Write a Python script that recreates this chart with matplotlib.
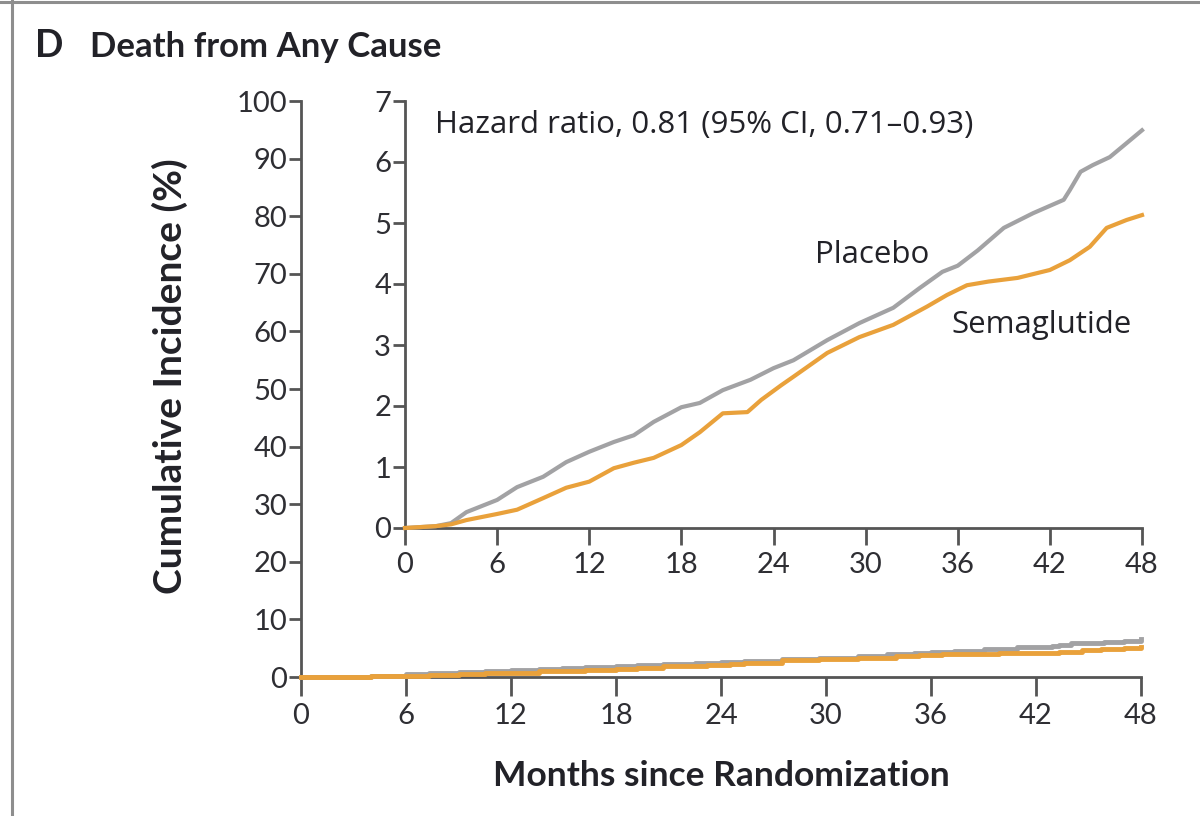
import matplotlib
matplotlib.use('Agg')  # Use non-interactive backend
import matplotlib.pyplot as plt
from matplotlib.lines import Line2D

# Cumulative incidence (%)
months_placebo = [0, 2, 3, 4, 6, 7.3, 9, 10.5, 12, 13.6, 14.9, 16.2, 18, 19.2, 20.7,
                  22.5, 24, 25.3, 27.5, 29.6, 31.8, 33.5, 35, 36, 37.3, 39, 40.9,
                  42.9, 43.3, 44, 44.8, 45.9, 47, 48]
placebo = [0, 0.03, 0.08, 0.26, 0.46, 0.67, 0.84, 1.08, 1.25, 1.41, 1.52, 1.74, 1.98,
           2.05, 2.26, 2.43, 2.62, 2.75, 3.08, 3.36, 3.61, 3.93, 4.2, 4.3, 4.55, 4.92,
           5.16, 5.38, 5.54, 5.84, 5.95, 6.08, 6.31, 6.52]

months_sema = [0, 2, 3, 4, 6, 7.3, 9, 10.5, 12, 13.6, 14.9, 16.2, 18, 19.2, 20.7, 22.3,
               23.2, 24.5, 25.3, 27.5, 29.6, 31.8, 34, 35.3, 36.6, 38, 39.9, 42, 43.3,
               44.6, 45.7, 47, 48]
sema = [0, 0.03, 0.06, 0.13, 0.23, 0.3, 0.49, 0.66, 0.76, 0.98, 1.07, 1.15, 1.36, 1.57,
        1.88, 1.9, 2.1, 2.34, 2.48, 2.87, 3.13, 3.33, 3.63, 3.82, 3.98, 4.04, 4.1, 4.23,
        4.39, 4.61, 4.92, 5.05, 5.13]

x_ticks = [0, 6, 12, 18, 24, 30, 36, 42, 48]
main_y_ticks = list(range(0, 101, 10))
inset_y_ticks = list(range(0, 8))

gray = '#a2a2a4'
orange = '#e9a13b'
axis_col = '#555555'
text_col = '#222228'

plt.rcParams['font.family'] = ['Lato', 'DejaVu Sans']

fig = plt.figure(figsize=(12, 8.16), dpi=100)

# frame lines of the panel
fig.add_artist(Line2D([12 / 1200, 12 / 1200], [0, 1], color='#8e8e8e', lw=2.2))
fig.add_artist(Line2D([0, 1], [1 - 2 / 816, 1 - 2 / 816], color='#8e8e8e', lw=2.2))


def style_axes(ax, xlen, ylen):
    for side in ['top', 'right']:
        ax.spines[side].set_visible(False)
    for side in ['left', 'bottom']:
        ax.spines[side].set_color(axis_col)
        ax.spines[side].set_linewidth(2)
    ax.tick_params(axis='x', direction='out', length=xlen, width=2, color=axis_col,
                   labelsize=21, labelcolor='#2e2e33', pad=5)
    ax.tick_params(axis='y', direction='out', length=ylen, width=2, color=axis_col,
                   labelsize=21, labelcolor='#2e2e33', pad=1)


# Main axes (0-100 %)
ax = fig.add_axes([301 / 1200, 1 - 677 / 816, 840 / 1200, 576 / 816])
ax.plot(months_placebo, placebo, color=gray, lw=3.5, drawstyle='steps-post', clip_on=False, zorder=3)
ax.plot(months_sema, sema, color=orange, lw=3.5, drawstyle='steps-post', clip_on=False, zorder=3)
ax.set_xlim(0, 48)
ax.set_ylim(0, 100)
ax.set_xticks(x_ticks)
ax.set_yticks(main_y_ticks)
style_axes(ax, 14, 9)

# Inset axes (0-7 %)
inset = fig.add_axes([405 / 1200, 1 - 528 / 816, 737 / 1200, 427 / 816])
inset.plot(months_placebo, placebo, color=gray, lw=3, clip_on=False, zorder=3)
inset.plot(months_sema, sema, color=orange, lw=3, clip_on=False, zorder=3)
inset.set_xlim(0, 48)
inset.set_ylim(0, 7)
inset.set_xticks(x_ticks)
inset.set_yticks(inset_y_ticks)
style_axes(inset, 12, 9)

ann = dict(fontsize=22.5, color=text_col, va='center', ha='left',
           family=['Open Sans', 'DejaVu Sans'])
inset.text(1.95, 6.6, 'Hazard ratio, 0.81 (95% CI, 0.71\u20130.93)', **ann)
inset.text(26.7, 4.48, 'Placebo', **ann)
inset.text(35.6, 3.33, 'Semaglutide', **ann)

# Titles and axis labels
fig.text(35 / 1200, 1 - 57 / 816, 'D', fontsize=27, fontweight='bold', color=text_col,
         va='baseline', ha='left')
fig.text(90 / 1200, 1 - 57 / 816, 'Death from Any Cause', fontsize=25, fontweight='bold',
         color=text_col, va='baseline', ha='left')
fig.text(170 / 1200, 1 - 376 / 816, 'Cumulative Incidence (%)', fontsize=28,
         fontweight='bold', color=text_col, rotation=90, va='center', ha='center')
fig.text(721 / 1200, 1 - 776 / 816, 'Months since Randomization', fontsize=25.5,
         fontweight='bold', color=text_col, va='center', ha='center')

fig.savefig('out.png', dpi=100)
plt.close(fig)
